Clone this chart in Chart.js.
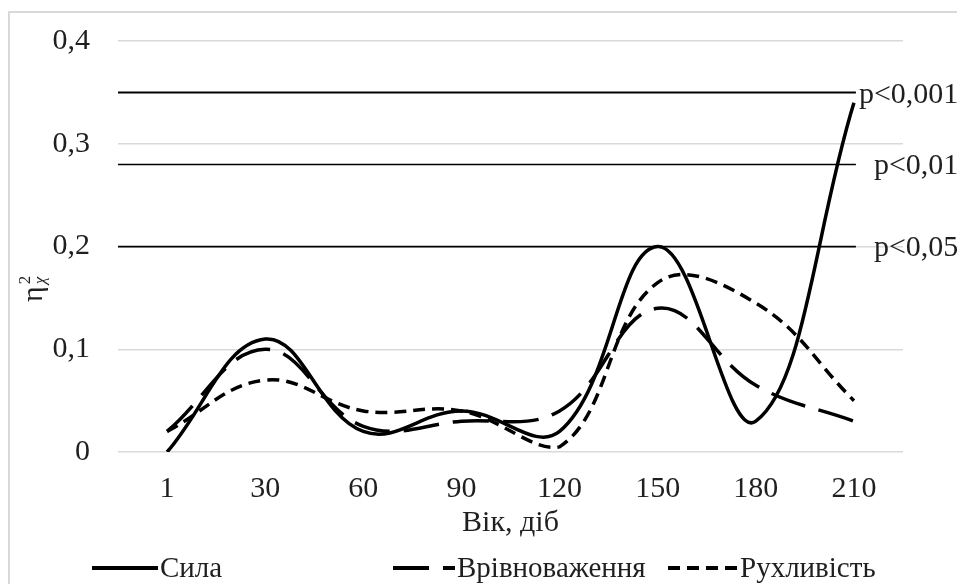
<!DOCTYPE html>
<html>
<head>
<meta charset="utf-8">
<script src="https://cdn.jsdelivr.net/npm/chart.js@4/dist/chart.umd.min.js"></script>
<style>
  html, body { margin: 0; padding: 0; background: #fff; }
  #wrap { position: relative; width: 957px; height: 584px; overflow: hidden; }
  #frame { position: absolute; left: 8px; top: 11px; width: 1000px; height: 700px; border: 2px solid #d9d9d9; box-sizing: border-box; }
  canvas { position: absolute; left: 0; top: 0; }
</style>
</head>
<body>
<div id="wrap">
  <div id="frame"></div>
  <canvas id="c" width="957" height="584"></canvas>
</div>
<script>
// ---- data ----
const categories = ['1', '30', '60', '90', '120', '150', '180', '210'];
const sila = [0, 0.11, 0.02, 0.04, 0.02, 0.20, 0.03, 0.34];
const vrivnovazhennia = [0.02, 0.10, 0.025, 0.03, 0.04, 0.14, 0.065, 0.03];
const rukhlyvist = [0.02, 0.07, 0.04, 0.04, 0.005, 0.165, 0.145, 0.05];
const thresholdValues = [0.35, 0.28, 0.20];
const thresholdLabels = ['p<0,001', 'p<0,01', 'p<0,05'];
const yTicks = [0, 0.1, 0.2, 0.3, 0.4];
const seriesNames = ['Сила', 'Врівноваження', 'Рухливість'];
const xTitle = 'Вік, діб';

const FONT = '"Liberation Serif", "Times New Roman", serif';
const TXT = '#1f1f1f';

function pts(arr) { return arr.map((v, i) => ({ x: i + 1, y: v })); }

const seriesStyles = [
  { borderDash: [] },
  { borderDash: [36, 14] },
  { borderDash: [12, 7] }
];
const seriesData = [sila, vrivnovazhennia, rukhlyvist];

const datasets = seriesData.map((arr, i) => ({
  label: seriesNames[i],
  data: pts(arr),
  borderColor: '#000',
  borderWidth: 3.5,
  borderDash: seriesStyles[i].borderDash,
  pointRadius: 0,
  tension: 0.4,
  fill: false,
  isSeries: true
}));

thresholdValues.forEach((v, i) => {
  datasets.push({
    label: thresholdLabels[i],
    data: [{ x: 0.5, y: v }, { x: 8.02, y: v }],
    borderColor: '#000',
    borderWidth: i === 0 ? 2 : 1.6,
    pointRadius: 0,
    tension: 0,
    fill: false,
    isThreshold: true,
    thresholdIndex: i
  });
});

const decorations = {
  id: 'decorations',
  afterDatasetsDraw(chart) {
    const ctx = chart.ctx;
    const y = chart.scales.y;
    const x = chart.scales.x;
    ctx.save();
    // threshold labels
    ctx.fillStyle = TXT;
    ctx.font = '30px ' + FONT;
    ctx.textBaseline = 'middle';
    ctx.textAlign = 'left';
    chart.data.datasets.forEach((ds) => {
      if (!ds.isThreshold) return;
      const last = ds.data[ds.data.length - 1];
      const px = x.getPixelForValue(last.x);
      const py = y.getPixelForValue(last.y);
      const off = ds.thresholdIndex === 0 ? 3 : 18;
      const dy = ds.thresholdIndex === 0 ? 3 : 2;
      ctx.fillText(ds.label, px + off, py + dy);
    });
    // y axis title η²χ
    ctx.save();
    ctx.translate(42, 302);
    ctx.rotate(-Math.PI / 2);
    ctx.textAlign = 'left';
    ctx.textBaseline = 'alphabetic';
    ctx.font = '30px ' + FONT;
    ctx.fillText('η', 0, 0);
    const w = ctx.measureText('η').width;
    ctx.font = '17px ' + FONT;
    ctx.fillText('2', w + 2, -12);
    ctx.font = 'italic 17px ' + FONT;
    ctx.fillText('χ', w + 2, 3);
    ctx.restore();
    // legend
    const legendY = 568;
    const legendItems = [
      { lineStart: 92, lineEnd: 158 },
      { lineStart: 393, lineEnd: 455 },
      { lineStart: 668, lineEnd: 738 }
    ];
    let k = 0;
    chart.data.datasets.forEach((ds) => {
      if (!ds.isSeries) return;
      const it = legendItems[k++];
      ctx.beginPath();
      ctx.setLineDash(ds.borderDash || []);
      ctx.lineWidth = 4;
      ctx.strokeStyle = '#000';
      ctx.moveTo(it.lineStart, legendY);
      ctx.lineTo(it.lineEnd, legendY);
      ctx.stroke();
      ctx.setLineDash([]);
      ctx.fillStyle = TXT;
      ctx.font = '29px ' + FONT;
      ctx.textBaseline = 'middle';
      ctx.textAlign = 'left';
      ctx.fillText(ds.label, it.lineEnd + 2, legendY + 1);
    });
    ctx.restore();
  }
};

new Chart(document.getElementById('c'), {
  type: 'line',
  data: { datasets },
  options: {
    responsive: false,
    animation: false,
    devicePixelRatio: 1,
    layout: { padding: { left: 0, top: 20, right: 54, bottom: 42 } },
    plugins: {
      legend: { display: false },
      tooltip: { enabled: false }
    },
    scales: {
      x: {
        type: 'linear',
        min: 0.5,
        max: 8.5,
        afterBuildTicks(scale) { scale.ticks = categories.map((c, i) => ({ value: i + 1 })); },
        afterFit(scale) { scale.height = 90; },
        ticks: {
          callback: (v) => categories[Math.round(v) - 1],
          font: { family: FONT, size: 30 },
          color: TXT,
          padding: 19,
          maxRotation: 0,
          autoSkip: false
        },
        grid: { display: false, drawTicks: false },
        border: { display: false },
        title: {
          display: true,
          text: xTitle,
          font: { family: FONT, size: 30 },
          color: TXT,
          padding: { top: 0, bottom: 1 }
        }
      },
      y: {
        type: 'linear',
        min: 0,
        max: 0.4,
        afterBuildTicks(scale) { scale.ticks = yTicks.map(v => ({ value: v })); },
        afterFit(scale) { scale.width = 118; },
        ticks: {
          callback: (v) => v === 0 ? '0' : v.toFixed(1).replace('.', ','),
          font: { family: FONT, size: 30, lineHeight: 0.88 },
          color: TXT,
          padding: 28
        },
        grid: { color: '#d9d9d9', lineWidth: 1.5, drawTicks: false },
        border: { display: false }
      }
    }
  },
  plugins: [decorations]
});
</script>
</body>
</html>
